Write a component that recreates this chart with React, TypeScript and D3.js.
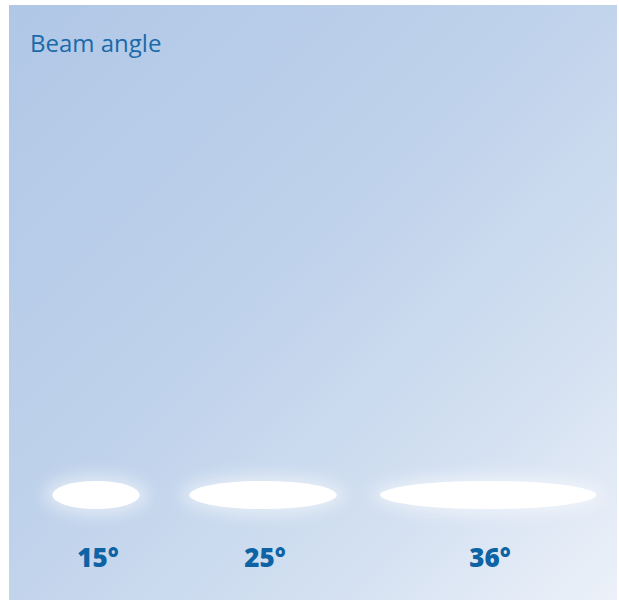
import * as React from "react"
import * as d3 from "d3"

const angles = [15, 25, 36]
const labels = ["15°", "25°", "36°"]
const centers = [96, 263, 488]
const title = "Beam angle"

const W = 619
const H = 600

export default function App() {
  const svgRef = React.useRef<SVGSVGElement>(null)

  React.useEffect(() => {
    if (!svgRef.current) return
    const svg = d3.select(svgRef.current)
    svg.selectAll("*").remove()

    const defs = svg.append("defs")
    const grad = defs
      .append("linearGradient")
      .attr("id", "bg")
      .attr("x1", "0%")
      .attr("y1", "0%")
      .attr("x2", "100%")
      .attr("y2", "100%")
    grad.append("stop").attr("offset", "0%").attr("stop-color", "#b0c7e6")
    grad.append("stop").attr("offset", "45%").attr("stop-color", "#bfd2eb")
    grad.append("stop").attr("offset", "75%").attr("stop-color", "#d3e0f1")
    grad.append("stop").attr("offset", "100%").attr("stop-color", "#ecf1f9")

    const glow = defs.append("filter").attr("id", "glow").attr("x", "-50%").attr("y", "-100%").attr("width", "200%").attr("height", "300%")
    glow.append("feGaussianBlur").attr("stdDeviation", 8)

    // panel
    svg
      .append("rect")
      .attr("x", 9)
      .attr("y", 5)
      .attr("width", 608)
      .attr("height", 595)
      .attr("fill", "url(#bg)")

    svg
      .append("text")
      .attr("x", 30)
      .attr("y", 52)
      .attr("fill", "#1a6aa9")
      .style("font-family", "'Open Sans', sans-serif")
      .style("font-size", "24px")
      .text(title)

    // half-width proportional to tan(angle/2)
    const rx = d3
      .scaleLinear()
      .domain([0, Math.tan((d3.max(angles)! / 2) * Math.PI / 180)])
      .range([0, 108])
    const y = d3.scalePoint<string>().domain(["beam", "label"]).range([495, 567])

    const g = svg
      .selectAll(".beam")
      .data(angles)
      .enter()
      .append("g")
      .attr("class", "beam")
      .attr("transform", (_, i) => `translate(${centers[i]},0)`)

    g.append("ellipse")
      .attr("cy", y("beam")!)
      .attr("rx", (d) => rx(Math.tan((d / 2) * Math.PI / 180)) + 8)
      .attr("ry", 20)
      .attr("fill", "#ffffff")
      .attr("opacity", 0.5)
      .attr("filter", "url(#glow)")

    g.append("ellipse")
      .attr("cy", y("beam")!)
      .attr("rx", (d) => rx(Math.tan((d / 2) * Math.PI / 180)))
      .attr("ry", 14)
      .attr("fill", "#ffffff")

    g.append("text")
      .attr("y", y("label")!)
      .attr("x", 2)
      .attr("text-anchor", "middle")
      .attr("fill", "#0d63a3")
      .style("font-family", "'Open Sans', sans-serif")
      .style("font-size", "26px")
      .style("font-weight", 800)
      .text((_, i) => labels[i])
  }, [])

  return (
    <div style={{ position: "absolute", left: 0, top: 0, width: W, height: H, background: "#fff" }}>
      <svg ref={svgRef} width={W} height={H} viewBox={`0 0 ${W} ${H}`} style={{ display: "block" }} />
    </div>
  )
}
